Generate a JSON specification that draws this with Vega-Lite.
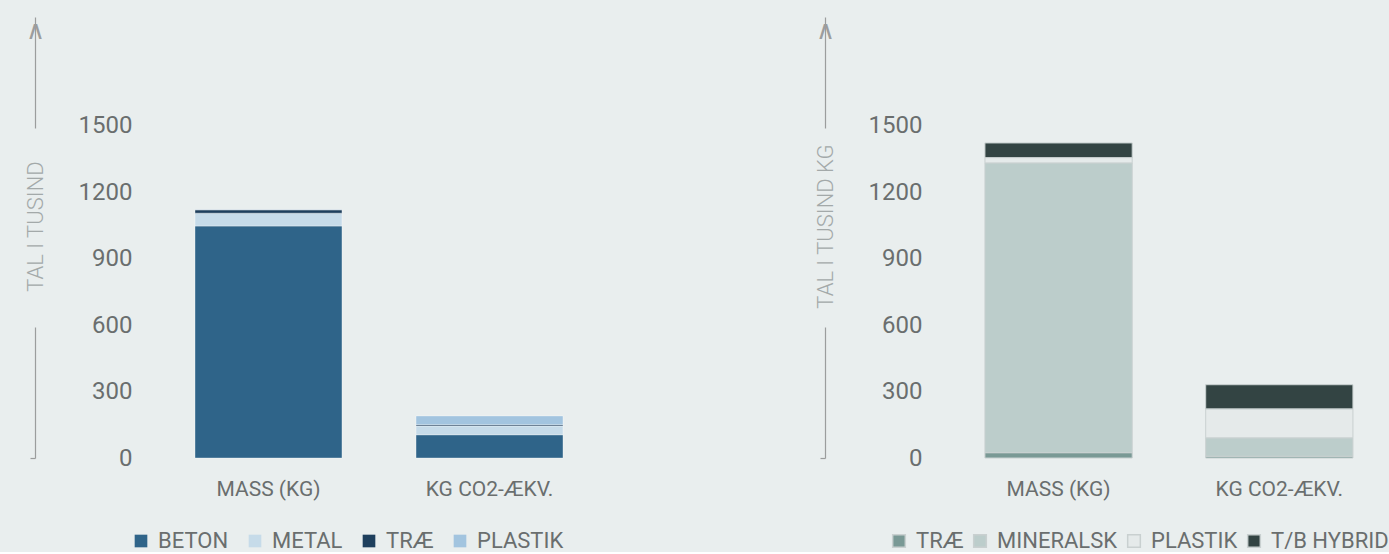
{
  "$schema": "https://vega.github.io/schema/vega-lite/v6.json",
  "background": "#e9eeee",
  "padding": {"left": 24, "top": 17, "right": 0, "bottom": 0},
  "spacing": 91,
  "config": {
    "view": {"stroke": null},
    "font": "Roboto",
    "axisX": {
      "title": null,
      "labelAngle": 0,
      "domain": false,
      "ticks": false,
      "labelPadding": 20,
      "labelFontSize": 21,
      "labelColor": "#6a6e6e"
    },
    "legend": {
      "orient": "none",
      "direction": "horizontal",
      "columns": 4,
      "title": null,
      "symbolType": "square",
      "symbolSize": 160,
      "labelFontSize": 22,
      "labelColor": "#6a6e6e",
      "labelOffset": 6,
      "legendY": 513
    }
  },
  "resolve": {
    "scale": {"color": "independent", "x": "independent", "y": "independent"},
    "legend": {"color": "independent"}
  },
  "hconcat": [
    {
      "width": 688,
      "height": 441,
      "data": {"values": [
        {"cat": "MASS (KG)", "mat": "BETON", "v": 1048, "k": 1},
        {"cat": "MASS (KG)", "mat": "METAL", "v": 58, "k": 2},
        {"cat": "MASS (KG)", "mat": "TRÆ", "v": 15, "k": 3},
        {"cat": "MASS (KG)", "mat": "PLASTIK", "v": 1, "k": 4},
        {"cat": "KG CO2-ÆKV.", "mat": "BETON", "v": 105, "k": 1},
        {"cat": "KG CO2-ÆKV.", "mat": "METAL", "v": 40, "k": 2},
        {"cat": "KG CO2-ÆKV.", "mat": "TRÆ", "v": 5, "k": 3},
        {"cat": "KG CO2-ÆKV.", "mat": "PLASTIK", "v": 40, "k": 4}
      ]},
      "mark": {"type": "bar", "stroke": "#ffffff", "strokeWidth": 1, "strokeOpacity": 0.35},
      "encoding": {
        "x": {"field": "cat", "type": "nominal", "sort": ["MASS (KG)", "KG CO2-ÆKV."],
              "scale": {"paddingInner": 0.335, "paddingOuter": 0.724}},
        "y": {"field": "v", "type": "quantitative", "stack": "zero",
              "scale": {"domain": [0, 1992], "nice": false},
              "axis": {
                "title": "TAL I TUSIND",
                "values": [0, 300, 600, 900, 1200, 1500, 1992],
                "format": "d",
                "grid": false,
                "titleAngle": -90,
                "titleX": 0,
                "titleY": 209,
                "titleAlign": "center",
                "titleBaseline": "middle",
                "titleFontSize": 22,
                "titleFontWeight": 300,
                "titleColor": "#a3a9a9",
                "domainColor": "#9b9d9d",
                "domainWidth": 1.2,
                "domainDash": [131, 199, 1000],
                "tickColor": "#9b9d9d",
                "tickSize": 5,
                "tickWidth": 1.2,
                "tickOpacity": {"condition": {"test": "datum.value == 0", "value": 1}, "value": 0},
                "labelExpr": "datum.value > 1600 ? '∧' : datum.label",
                "labelAlign": {"condition": {"test": "datum.value > 1600", "value": "center"}, "value": "right"},
                "labelBaseline": {"condition": {"test": "datum.value > 1600", "value": "top"}, "value": "middle"},
                "labelPadding": {"condition": {"test": "datum.value > 1600", "value": -5}, "value": -102},
                "labelFont": {"condition": {"test": "datum.value > 1600", "value": "DejaVu Sans"}, "value": "Roboto"},
                "labelFontWeight": {"condition": {"test": "datum.value > 1600", "value": 200}, "value": 400},
                "labelColor": {"condition": {"test": "datum.value > 1600", "value": "#9b9d9d"}, "value": "#6a6e6e"},
                "labelFontSize": {"condition": {"test": "datum.value > 1600", "value": 26}, "value": 24},
                "labelFlush": false,
                "labelOverlap": false,
                "labelBound": false
              }},
        "color": {"field": "mat", "type": "nominal",
                  "scale": {"domain": ["BETON", "METAL", "TRÆ", "PLASTIK"], "range": ["#2f6489", "#c6dbe9", "#1e3f5d", "#a2c4df"]},
                  "legend": {"legendX": 95, "symbolStrokeWidth": 0, "columnPadding": 15}},
        "order": {"field": "k", "type": "quantitative"}
      }
    },
    {
      "width": 564,
      "height": 441,
      "data": {"values": [
        {"cat": "MASS (KG)", "mat": "TRÆ", "v": 24, "k": 1},
        {"cat": "MASS (KG)", "mat": "MINERALSK", "v": 1309, "k": 2},
        {"cat": "MASS (KG)", "mat": "PLASTIK", "v": 24, "k": 3},
        {"cat": "MASS (KG)", "mat": "T/B HYBRID", "v": 66, "k": 4},
        {"cat": "KG CO2-ÆKV.", "mat": "TRÆ", "v": 8, "k": 1},
        {"cat": "KG CO2-ÆKV.", "mat": "MINERALSK", "v": 83, "k": 2},
        {"cat": "KG CO2-ÆKV.", "mat": "PLASTIK", "v": 131, "k": 3},
        {"cat": "KG CO2-ÆKV.", "mat": "T/B HYBRID", "v": 109, "k": 4}
      ]},
      "mark": {"type": "bar", "stroke": "#c9d0d0", "strokeWidth": 1},
      "encoding": {
        "x": {"field": "cat", "type": "nominal", "sort": ["MASS (KG)", "KG CO2-ÆKV."],
              "scale": {"paddingInner": 0.333, "paddingOuter": 0.444, "align": 0.816}},
        "y": {"field": "v", "type": "quantitative", "stack": "zero",
              "scale": {"domain": [0, 1992], "nice": false},
              "axis": {
                "title": "TAL I TUSIND KG",
                "values": [0, 300, 600, 900, 1200, 1500, 1992],
                "format": "d",
                "grid": false,
                "titleAngle": -90,
                "titleX": 0,
                "titleY": 209,
                "titleAlign": "center",
                "titleBaseline": "middle",
                "titleFontSize": 22,
                "titleFontWeight": 300,
                "titleColor": "#a3a9a9",
                "domainColor": "#9b9d9d",
                "domainWidth": 1.2,
                "domainDash": [131, 199, 1000],
                "tickColor": "#9b9d9d",
                "tickSize": 5,
                "tickWidth": 1.2,
                "tickOpacity": {"condition": {"test": "datum.value == 0", "value": 1}, "value": 0},
                "labelExpr": "datum.value > 1600 ? '∧' : datum.label",
                "labelAlign": {"condition": {"test": "datum.value > 1600", "value": "center"}, "value": "right"},
                "labelBaseline": {"condition": {"test": "datum.value > 1600", "value": "top"}, "value": "middle"},
                "labelPadding": {"condition": {"test": "datum.value > 1600", "value": -5}, "value": -102},
                "labelFont": {"condition": {"test": "datum.value > 1600", "value": "DejaVu Sans"}, "value": "Roboto"},
                "labelFontWeight": {"condition": {"test": "datum.value > 1600", "value": 200}, "value": 400},
                "labelColor": {"condition": {"test": "datum.value > 1600", "value": "#9b9d9d"}, "value": "#6a6e6e"},
                "labelFontSize": {"condition": {"test": "datum.value > 1600", "value": 26}, "value": 24},
                "labelFlush": false,
                "labelOverlap": false,
                "labelBound": false
              }},
        "color": {"field": "mat", "type": "nominal",
                  "scale": {"domain": ["TRÆ", "MINERALSK", "PLASTIK", "T/B HYBRID"], "range": ["#799995", "#bccdcb", "#e5eaea", "#334443"]},
                  "legend": {"legendX": 63, "columnPadding": 5}},
        "order": {"field": "k", "type": "quantitative"}
      }
    }
  ]
}
